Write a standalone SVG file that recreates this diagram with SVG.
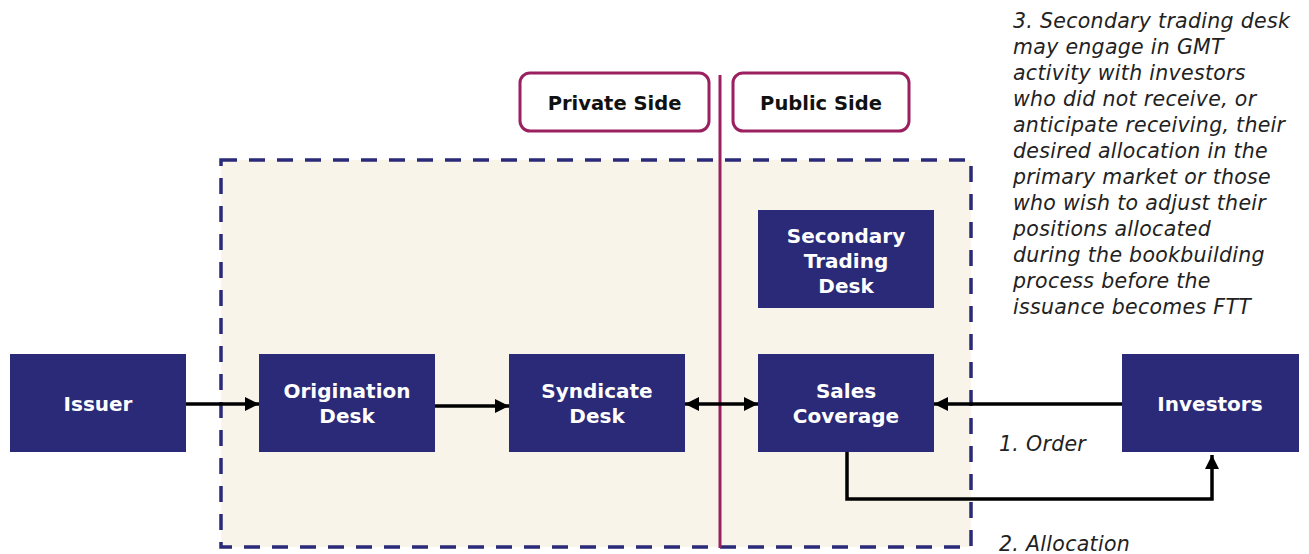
<svg xmlns="http://www.w3.org/2000/svg" width="1309" height="554" viewBox="0 0 1309 554">
<style>
.node rect{fill:#2A2A78}
.node text{fill:#fff;font-family:"DejaVu Sans","Open Sans",sans-serif;font-weight:bold;font-size:20px;text-anchor:middle}
.side rect{fill:#fff;stroke:#9B2060;stroke-width:3}
.side text{fill:#111;font-family:"DejaVu Sans","Open Sans",sans-serif;font-weight:bold;font-size:19.5px;text-anchor:middle}
.note{fill:#222;font-family:"DejaVu Sans","Open Sans",sans-serif;font-style:italic;font-size:20.5px;letter-spacing:0.3px}
.conn{stroke:#000;stroke-width:3.5;fill:none}
</style>
<defs>
<marker id="a" viewBox="0 0 12 12" refX="12" refY="6" markerWidth="14" markerHeight="14" markerUnits="userSpaceOnUse" orient="auto-start-reverse">
<path d="M0,0 L12,6 L0,12 z" fill="#000"/>
</marker>
</defs>
<rect x="0" y="0" width="1309" height="554" fill="#fff"/>
<g id="private-public-area">
<rect x="221" y="160" width="750" height="387" fill="#F8F4EA" stroke="#2A2A78" stroke-width="3.5" stroke-dasharray="16 12"/>
</g>
<g id="divider">
<line x1="720" y1="75" x2="720" y2="548" stroke="#9B2060" stroke-width="3"/>
</g>
<g id="private-side" class="side">
<rect x="520" y="73" width="189" height="58" rx="10"/>
<text x="614.5" y="110">Private Side</text>
</g>
<g id="public-side" class="side">
<rect x="733" y="73" width="176" height="58" rx="10"/>
<text x="821" y="110">Public Side</text>
</g>
<g id="connectors">
<line class="conn" x1="186" y1="404" x2="259" y2="404" marker-end="url(#a)"/>
<line class="conn" x1="435" y1="406" x2="509" y2="406" marker-end="url(#a)"/>
<line class="conn" x1="685" y1="404" x2="758" y2="404" marker-start="url(#a)" marker-end="url(#a)"/>
<line class="conn" x1="1122" y1="404" x2="934" y2="404" marker-end="url(#a)"/>
<polyline class="conn" points="847,452 847,499 1212,499 1212,455" marker-end="url(#a)"/>
</g>
<g id="issuer" class="node">
<rect x="10" y="354" width="176" height="98"/>
<text x="98" y="411">Issuer</text>
</g>
<g id="origination-desk" class="node">
<rect x="259" y="354" width="176" height="98"/>
<text x="347" y="398">Origination</text>
<text x="347" y="423">Desk</text>
</g>
<g id="syndicate-desk" class="node">
<rect x="509" y="354" width="176" height="98"/>
<text x="597" y="398">Syndicate</text>
<text x="597" y="423">Desk</text>
</g>
<g id="sales-coverage" class="node">
<rect x="758" y="354" width="176" height="98"/>
<text x="846" y="398">Sales</text>
<text x="846" y="423">Coverage</text>
</g>
<g id="secondary-trading-desk" class="node">
<rect x="758" y="210" width="176" height="98"/>
<text x="846" y="243">Secondary</text>
<text x="846" y="268">Trading</text>
<text x="846" y="293">Desk</text>
</g>
<g id="investors" class="node">
<rect x="1122" y="354" width="177" height="98"/>
<text x="1210" y="411">Investors</text>
</g>
<g id="labels">
<text class="note" x="999" y="451">1. Order</text>
<text class="note" x="999" y="551">2. Allocation</text>
<text class="note" x="1013" y="28">3. Secondary trading desk</text>
<text class="note" x="1013" y="54">may engage in GMT</text>
<text class="note" x="1013" y="80">activity with investors</text>
<text class="note" x="1013" y="106">who did not receive, or</text>
<text class="note" x="1013" y="132">anticipate receiving, their</text>
<text class="note" x="1013" y="158">desired allocation in the</text>
<text class="note" x="1013" y="184">primary market or those</text>
<text class="note" x="1013" y="210">who wish to adjust their</text>
<text class="note" x="1013" y="236">positions allocated</text>
<text class="note" x="1013" y="262">during the bookbuilding</text>
<text class="note" x="1013" y="288">process before the</text>
<text class="note" x="1013" y="314">issuance becomes FTT</text>
</g>
</svg>
